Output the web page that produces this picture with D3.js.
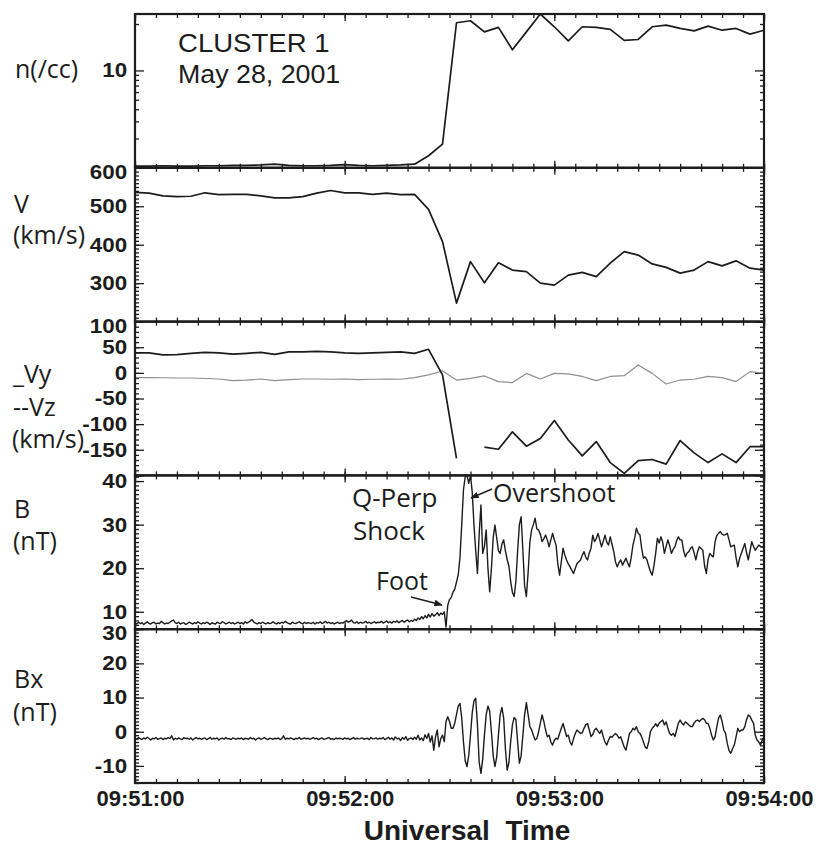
<!DOCTYPE html>
<html>
<head>
<meta charset="utf-8">
<script src="https://cdn.jsdelivr.net/npm/d3@7"></script>
<style>
  html, body { margin: 0; padding: 0; background: #ffffff; }
  svg { display: block; }
</style>
</head>
<body>
<svg id="chart" width="819" height="849"></svg>
<script>
// ---- Time axis (seconds after 09:51:00 UT) ----
const timeDomain = [0, 180];
const tickTimes = [0, 60, 120, 180];
const tickLabels = ["09:51:00", "09:52:00", "09:53:00", "09:54:00"];

// ---- Plasma moments, one sample per 4 s spin ----
const spinStep = 4;
const nDensity = [1.04, 1.04, 1.05, 1.04, 1.04, 1.05, 1.05, 1.06, 1.06, 1.07,
  1.09, 1.06, 1.05, 1.05, 1.06, 1.08, 1.06, 1.05, 1.06, 1.07,
  1.09, 1.33, 1.75, 30.9, 32.4, 24.9, 27.7, 16.3, 24.9, 38.0,
  28.1, 20.1, 28.1, 27.7, 26.4, 20.4, 20.8, 28.1, 29.2, 27.0,
  25.5, 28.5, 25.9, 27.0, 23.6, 25.9];
const speed = [536, 534, 527, 525, 526, 535, 530, 531, 531, 527,
  522, 522, 525, 534, 541, 535, 535, 531, 534, 530,
  531, 492, 408, 248, 356, 301, 353, 334, 330, 300,
  295, 321, 328, 317, 352, 382, 373, 350, 341, 326,
  334, 356, 345, 358, 339, 334];
const vy = [39, 39, 35, 35.6, 38, 40, 39, 36.5, 38, 40,
  36, 41, 41, 42, 41, 39, 38, 39, 40, 41,
  38, 46, -4, -167, null, -145, -149, -115, -143, -128,
  -93, -131, -162, -134, -175, -196, -171, -169, -178, -132,
  -156, -175, -158, -175, -144, -144];
const vz = [-9.3, -9, -9.5, -10, -10, -11, -12, -15, -14, -12,
  -15, -13, -12, -12, -12.5, -12, -13, -12.5, -12, -12.5,
  -9.3, -4, 3.7, -14, -10.6, -6, -17, -19, -1, -12,
  -1, -2, -7, -15, -7, -5.5, 15.4, -1, -21.7, -14,
  -12.5, -7, -9.3, -17, 2.4, -1];

// ---- Magnetometer, 0.5 s samples (one row = 10 s) ----
const fgmStep = 0.5;
const bMag = [
  7.4,7.2,7.6,7.3,7.5,7.1,7.4,7.7,7.3,7.2,7.5,7.6,7.2,7.4,7.3,7.8,7.5,7.2,7.4,7.3,
  7.6,7.9,8.1,7.5,7.3,7.6,7.2,7.4,7.5,7.1,7.3,7.6,7.4,7.2,7.5,7.3,7.7,7.4,7.2,7.5,
  7.3,7.6,7.4,7.1,7.5,7.3,7.2,7.6,7.4,7.3,7.7,7.5,7.2,7.4,7.6,7.3,7.5,7.2,7.4,7.6,
  7.3,7.5,7.2,7.7,7.4,7.6,7.9,8.2,7.6,7.4,7.2,7.5,7.3,7.6,7.4,7.2,7.5,7.3,7.4,7.7,
  7.4,7.2,7.5,7.3,7.6,7.4,7.8,7.5,7.3,7.2,7.6,7.4,7.3,7.5,7.7,7.4,7.2,7.6,7.3,7.5,
  7.4,7.3,7.6,7.2,7.5,7.4,7.7,7.3,7.5,7.8,7.4,7.6,7.3,7.5,7.2,7.4,7.6,7.3,7.5,7.4,
  7.7,8.0,7.6,7.8,8.1,7.5,7.4,7.7,7.3,7.6,7.4,7.5,7.8,7.4,7.6,7.3,7.5,7.7,7.4,7.6,
  7.5,7.8,7.4,7.6,7.9,7.5,7.7,7.4,7.8,7.6,7.9,7.5,7.8,8.0,7.6,7.9,8.1,7.7,8.0,7.8,
  8.3,8.0,8.6,8.2,8.9,8.4,9.1,8.6,9.4,8.8,9.6,9.0,9.3,9.8,9.1,9.7,9.4,10.0,6.5,11.5,
  12.8,13.3,14.5,15.2,16.8,18.5,22.5,30,38,41,41.3,39.5,41.3,37.5,30,24,18.8,28,34.5,23.4,
  25,28.8,20,14.6,20,27,29.9,27,24,23.4,25.5,26.5,24,22,20.5,17,14.5,13.5,17,24,
  30,31.8,24,16,13.5,19,26,28.8,30,31.5,29,28.8,27.8,26.1,26.8,27.6,26.5,24.9,26.5,28,
  26.5,25.3,21,18.4,21.5,24.6,23,21.9,21,20.3,19.5,18.8,20,21.1,21.5,21.9,23,23.8,22.5,21.9,
  23.5,24.6,27.6,26.1,26.8,28,26.5,24.9,26.2,27.6,26.0,25.3,27.2,25.5,23.8,21.5,20.3,21.3,21.9,20.7,
  21.5,22.3,21.2,20.3,22.5,25.3,27,29.2,28,27.6,24.5,22.3,22.6,21.9,20.5,19.2,18.4,20.5,23.4,26.9,
  25.8,27.2,26,23.4,25,26.5,25.2,23.4,24.3,24.9,26.3,27.2,26.5,26.5,24,22.6,23.5,23.8,24.6,24.9,
  23.5,21.9,23.8,24.9,24.5,24.1,20.5,18.8,22,23.4,22.9,22.6,26.1,27.5,28,28.4,27.8,27.6,27.7,28,
  26.5,24.9,25.1,25.3,22.5,20.3,22.2,23.4,24.5,25.7,23.6,21.9,24,26.1,25,24.1,24.7,25.3,25,24.9,
  25.2];
const bx = [
  -1.9,-2.2,-1.7,-2.0,-2.3,-1.8,-2.1,-1.6,-2.0,-2.4,-1.9,-2.1,-1.7,-2.2,-2.0,-1.8,-2.3,-1.9,-2.1,-1.7,
  -2.0,-1.2,-2.4,-1.9,-2.2,-1.8,-2.1,-2.3,-1.7,-2.0,-1.9,-2.2,-1.8,-2.4,-2.0,-1.7,-2.1,-1.9,-2.2,-2.0,
  -1.8,-2.3,-2.0,-1.7,-2.2,-1.9,-2.1,-1.8,-2.4,-2.0,-1.9,-2.2,-1.7,-2.1,-2.0,-2.3,-1.8,-2.0,-2.2,-1.9,
  -2.1,-1.8,-2.3,-1.9,-2.0,-2.2,-1.7,-2.1,-1.9,-2.4,-2.0,-1.8,-2.2,-2.0,-1.7,-2.1,-2.3,-1.9,-2.0,-2.2,
  -1.9,-2.1,-1.8,-2.3,-2.0,-1.2,-2.2,-1.9,-2.1,-1.8,-2.0,-2.3,-1.9,-2.1,-1.7,-2.2,-2.0,-1.8,-2.1,-1.9,
  -2.2,-2.0,-1.7,-2.1,-1.9,-2.3,-2.0,-1.8,-2.2,-2.1,-1.9,-1.7,-2.2,-2.0,-2.3,-1.8,-2.1,-1.9,-2.0,-2.2,
  -1.8,-2.1,-1.9,-2.3,-2.0,-1.7,-2.2,-1.9,-2.1,-2.0,-1.8,-2.2,-2.0,-1.9,-2.3,-1.7,-2.1,-2.0,-1.8,-2.2,
  -1.9,-2.1,-1.7,-2.3,-2.0,-1.6,-2.2,-1.8,-2.4,-1.5,-2.1,-1.9,-2.6,-1.7,-2.2,-1.4,-2.5,-2.0,-1.8,-2.3,
  -1.6,-2.2,-1.0,-2.4,-1.8,-2.6,-0.9,-2.0,-0.5,-3.0,-1.2,-5.4,-1.5,0.5,-4.4,-2.0,-1.0,-2.9,3.0,4.4,
  3.0,1.0,1.0,2.5,5.0,7.5,8.3,4.0,-3.0,-8.5,-10.2,-7.0,-1.0,5.5,9.0,9.8,2.0,-9.0,-12.2,-8.0,
  -1.0,5.0,7.5,6.0,0.0,-7.0,-10.2,-7.5,-1.0,5.0,7.1,4.0,-5.0,-11.2,-9.0,-3.0,2.0,4.2,3.5,-3.0,
  -9.2,-7.0,-1.0,5.0,8.5,5.0,1.5,0.5,-1.0,-2.4,-2.0,0.0,2.5,4.9,3.0,0.5,-1.5,-1.0,-3.0,-3.9,
  -2.5,-1.9,-2.2,-0.5,1.0,2.4,0.5,-1.4,-1.0,-3.0,-3.9,-2.0,-0.5,0.5,0.0,-0.5,-0.3,1.0,2.0,2.4,
  0.5,-1.4,-0.8,0.5,1.0,0.2,-0.5,0.5,-1.5,-3.0,-3.9,-2.5,-1.4,-1.6,-1.0,-0.5,-1.0,-1.9,-1.5,-3.0,
  -4.5,-5.4,-3.0,-0.5,0.0,1.0,0.5,1.5,0.0,-0.5,-1.5,-3.0,-4.5,-4.9,-3.0,0.0,1.0,1.5,2.4,1.5,
  2.5,3.0,3.4,2.0,2.9,1.0,-0.5,-1.0,-0.5,-1.4,0.5,2.5,3.4,2.5,2.0,2.9,2.5,2.0,1.5,1.5,
  2.5,3.2,3.4,3.0,3.5,3.9,3.5,2.5,2.4,1.0,-1.0,-2.4,-1.5,1.5,4.0,4.9,3.0,0.5,-0.5,-3.5,
  -5.5,-6.3,-5.0,-3.9,-1.5,1.0,0.0,0.5,0.5,1.5,3.5,4.9,4.5,3.4,2.5,-1.0,-2.4,-3.0,-3.9,-2.5,
  -1.5];

// ---- Axis ranges and labelled ticks per panel ----
const nDomain = [1, 38],    nTicks = [10],  nMinor = [2, 3, 4, 5, 6, 7, 8, 9, 30];
const vDomain = [200, 600], vTicks = [600, 500, 400, 300];
const vyzDomain = [-200, 100], vyzTicks = [100, 50, 0, -50, -100, -150];
const bDomain = [6, 41.3],  bTicks = [40, 30, 20, 10];
const bxDomain = [-15, 30], bxTicks = [30, 20, 10, 0, -10];

// ---- Layout ----
const svg = d3.select("#chart");
const W = 819, H = 849;
const left = 135, right = 764, top0 = 14, bottom = 783;
const ph = (bottom - top0) / 5;
const ink = "#1c1c1c";
const numFont = "'Liberation Sans', Arial, Helvetica, sans-serif";
const labFont = "'Open Sans', 'Noto Sans', sans-serif";

svg.append("rect").attr("width", W).attr("height", H).attr("fill", "#ffffff");

const defs = svg.append("defs");
defs.append("marker").attr("id", "arrowhead")
  .attr("viewBox", "0 0 10 10").attr("refX", 9).attr("refY", 5)
  .attr("markerWidth", 6).attr("markerHeight", 6).attr("orient", "auto")
  .append("path").attr("d", "M0,1 L10,5 L0,9 Z").attr("fill", ink);

const x = d3.scaleLinear().domain(timeDomain).range([left, right]);

function txt(g, s, tx, ty, o) {
  const t = g.append("text")
    .attr("transform", `translate(${tx},${ty}) scale(${o.sx || 1},1)`)
    .attr("font-family", o.family)
    .attr("font-size", o.size)
    .attr("font-weight", o.weight || "normal")
    .attr("text-anchor", o.anchor || "start")
    .attr("fill", ink)
    .text(s);
  if (o.pre) t.attr("xml:space", "preserve").style("white-space", "pre");
  return t;
}

const panels = [
  { y: d3.scaleLog().domain(nDomain), major: nTicks, minor: nMinor, labels: nTicks,
    names: [["n(/cc)", 15, 78]] },
  { y: d3.scaleLinear().domain(vDomain), major: d3.range(200, 601, 100),
    minor: d3.range(200, 601, 10), labels: vTicks,
    names: [["V", 14, 213], ["(km/s)", 13, 244]] },
  { y: d3.scaleLinear().domain(vyzDomain), major: d3.range(-200, 101, 50),
    minor: d3.range(-200, 101, 10), labels: vyzTicks,
    names: [["_Vy", 13, 383], ["--Vz", 13, 416], ["(km/s)", 12, 448]] },
  { y: d3.scaleLinear().domain(bDomain), major: [10, 20, 30, 40],
    minor: d3.range(6, 42, 1), labels: bTicks,
    names: [["B", 14, 518], ["(nT)", 13, 550]] },
  { y: d3.scaleLinear().domain(bxDomain), major: d3.range(-10, 31, 10),
    minor: d3.range(-15, 31, 1), labels: bxTicks,
    names: [["Bx", 14, 688], ["(nT)", 13, 721]] }
];

panels.forEach((p, i) => {
  const pt = top0 + i * ph, pb = pt + ph;
  p.top = pt; p.bottom = pb;
  p.y.range([pb, pt]);

  defs.append("clipPath").attr("id", "clip" + i)
    .append("rect").attr("x", left).attr("y", pt).attr("width", right - left).attr("height", ph);

  const g = svg.append("g");

  // time ticks on top and bottom edges, pointing inward
  const minorT = d3.range(0, 181, 6);
  [[d3.axisTop, pt], [d3.axisBottom, pb]].forEach(([fn, yy]) => {
    g.append("g").attr("transform", `translate(0,${yy})`)
      .call(fn(x).tickValues(minorT).tickSizeInner(-4).tickSizeOuter(0).tickFormat(""));
    g.append("g").attr("transform", `translate(0,${yy})`)
      .call(fn(x).tickValues(tickTimes).tickSizeInner(-7).tickSizeOuter(0).tickFormat(""));
  });

  // value ticks on left and right edges, pointing inward
  const minorV = p.minor.filter(v => v >= p.y.domain()[0] && v <= p.y.domain()[1]);
  [[d3.axisLeft, left], [d3.axisRight, right]].forEach(([fn, xx]) => {
    g.append("g").attr("transform", `translate(${xx},0)`)
      .call(fn(p.y).tickValues(minorV).tickSizeInner(-4).tickSizeOuter(0).tickFormat(""));
    g.append("g").attr("transform", `translate(${xx},0)`)
      .call(fn(p.y).tickValues(p.major).tickSizeInner(-9).tickSizeOuter(0).tickFormat(""));
  });

  // labelled left axis; the label at the top edge sits a little lower
  const top = p.y.domain()[1];
  g.append("g").attr("transform", `translate(${left},0)`)
    .call(d3.axisLeft(p.y).tickValues(p.labels).tickSizeInner(0).tickSizeOuter(0)
      .tickPadding(7).tickFormat(d => String(d)))
    .call(a => a.selectAll("text")
      .attr("font-family", numFont).attr("font-size", 20).attr("font-weight", "bold")
      .attr("fill", ink)
      .attr("transform", d => `translate(0,${Math.abs(p.y(d) - pt) < 1 ? 4 : 0}) scale(1.12,1)`));

  g.selectAll(".domain").remove();
  g.selectAll(".tick line").attr("stroke", ink).attr("stroke-width", 1.3);

  p.names.forEach(([s, nx, ny]) => txt(svg, s, nx, ny, { family: labFont, size: 25 }));
  p.clip = `url(#clip${i})`;
});

// ---- Data traces ----
function trace(p, pts, color, width) {
  const line = d3.line()
    .defined(d => d[1] !== null)
    .x(d => x(d[0]))
    .y(d => p.y(d[1]));
  svg.append("path")
    .datum(pts)
    .attr("clip-path", p.clip)
    .attr("d", line)
    .attr("fill", "none")
    .attr("stroke", color)
    .attr("stroke-width", width)
    .attr("stroke-linejoin", "round");
}
const spinPts = arr => arr.map((v, k) => [k * spinStep, v]);
const fgmPts = arr => arr.map((v, k) => [k * fgmStep, v]);

trace(panels[0], spinPts(nDensity), ink, 1.7);
trace(panels[1], spinPts(speed), ink, 1.7);
trace(panels[2], spinPts(vz), "#8f8f8f", 1.2);
trace(panels[2], spinPts(vy), ink, 1.7);
trace(panels[3], fgmPts(bMag), ink, 1.4);
trace(panels[4], fgmPts(bx), ink, 1.4);

// ---- Panel frames ----
panels.forEach(p => {
  svg.append("rect").attr("x", left).attr("y", p.top)
    .attr("width", right - left).attr("height", ph)
    .attr("fill", "none").attr("stroke", ink).attr("stroke-width", 2.2);
});

// ---- Time labels ----
const xl = svg.append("g").attr("transform", `translate(0,${bottom})`)
  .call(d3.axisBottom(x).tickValues(tickTimes).tickSize(0).tickPadding(0)
    .tickFormat((d, i) => tickLabels[i]));
xl.select(".domain").remove();
xl.selectAll("text")
  .attr("y", 23).attr("dy", 0).attr("dx", 5)
  .attr("font-family", numFont).attr("font-size", 22).attr("font-weight", "bold")
  .attr("fill", ink);

txt(svg, "Universal  Time", 467, 840, { family: numFont, size: 28, weight: "bold", anchor: "middle", pre: true });

// ---- Title and annotations ----
txt(svg, "CLUSTER 1", 178, 52, { family: numFont, size: 26, sx: 1.06 });
txt(svg, "May 28, 2001", 178, 83, { family: numFont, size: 26, sx: 1.03 });

txt(svg, "Q-Perp", 352, 507, { family: labFont, size: 25, sx: 1.04 });
txt(svg, "Shock", 353, 540, { family: labFont, size: 25, sx: 1.04 });
txt(svg, "Foot", 376, 590, { family: labFont, size: 25 });
txt(svg, "Overshoot", 493, 502, { family: labFont, size: 25 });

svg.append("line").attr("x1", 411).attr("y1", 597).attr("x2", 442).attr("y2", 605)
  .attr("stroke", ink).attr("stroke-width", 1.4).attr("marker-end", "url(#arrowhead)");
svg.append("line").attr("x1", 492).attr("y1", 489).attr("x2", 471).attr("y2", 498)
  .attr("stroke", ink).attr("stroke-width", 1.4).attr("marker-end", "url(#arrowhead)");
</script>
</body>
</html>
